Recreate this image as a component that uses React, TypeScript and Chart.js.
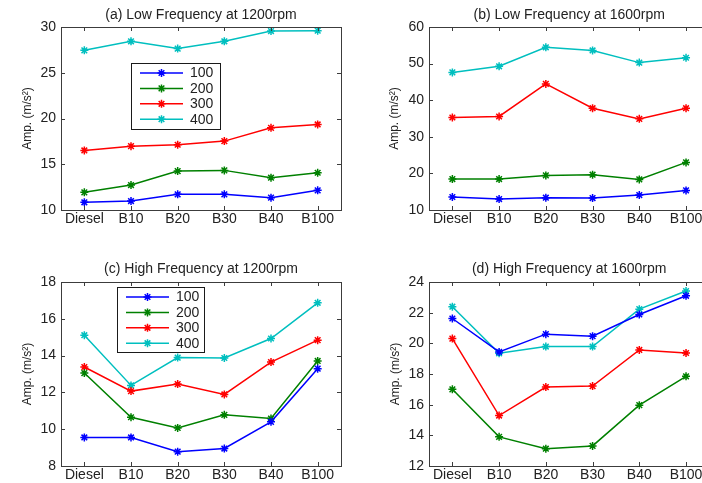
import React, { useEffect, useRef } from 'react';
import { Chart, registerables } from 'chart.js';

Chart.register(...registerables);

// ---------- data ----------
const categories = ['Diesel', 'B10', 'B20', 'B30', 'B40', 'B100'];
const seriesLabels = ['100', '200', '300', '400'];
const seriesColors = ['#0000ff', '#008000', '#ff0000', '#00bfbf'];

// (a) Low Frequency at 1200rpm
const lowFreq1200_100 = [10.84, 10.98, 11.71, 11.71, 11.35, 12.15];
const lowFreq1200_200 = [11.93, 12.73, 14.25, 14.33, 13.53, 14.07];
const lowFreq1200_300 = [16.51, 16.98, 17.13, 17.53, 18.98, 19.35];
const lowFreq1200_400 = [27.45, 28.44, 27.64, 28.44, 29.56, 29.6];
const lowFreq1200Ticks = [10, 15, 20, 25, 30];

// (b) Low Frequency at 1600rpm
const lowFreq1600_100 = [13.55, 13.0, 13.36, 13.27, 14.09, 15.36];
const lowFreq1600_200 = [18.45, 18.45, 19.45, 19.64, 18.36, 23.0];
const lowFreq1600_300 = [35.27, 35.55, 44.45, 37.82, 34.9, 37.82];
const lowFreq1600_400 = [47.6, 49.27, 54.45, 53.6, 50.27, 51.6];
const lowFreq1600Ticks = [10, 20, 30, 40, 50, 60];

// (c) High Frequency at 1200rpm
const highFreq1200_100 = [9.55, 9.55, 8.78, 8.95, 10.4, 13.29];
const highFreq1200_200 = [13.05, 10.65, 10.07, 10.78, 10.58, 13.71];
const highFreq1200_300 = [13.38, 12.07, 12.45, 11.89, 13.65, 14.84];
const highFreq1200_400 = [15.11, 12.38, 13.89, 13.87, 14.93, 16.87];
const highFreq1200Ticks = [8, 10, 12, 14, 16, 18];

// (d) High Frequency at 1600rpm
const highFreq1600_100 = [21.62, 19.44, 20.6, 20.47, 21.88, 23.1];
const highFreq1600_200 = [17.0, 13.9, 13.13, 13.31, 15.97, 17.85];
const highFreq1600_300 = [20.31, 15.29, 17.15, 17.21, 19.57, 19.37];
const highFreq1600_400 = [22.39, 19.35, 19.79, 19.79, 22.23, 23.41];
const highFreq1600Ticks = [12, 14, 16, 18, 20, 22, 24];

const TEXT = '#222222';
const AXIS = '#3c3c3c';
const FONT = '"Liberation Sans", Arial, Helvetica, sans-serif';

function drawStar(ctx: CanvasRenderingContext2D, cx: number, cy: number, r: number) {
  const d = r * Math.SQRT1_2;
  ctx.beginPath();
  ctx.moveTo(cx - r, cy); ctx.lineTo(cx + r, cy);
  ctx.moveTo(cx, cy - r); ctx.lineTo(cx, cy + r);
  ctx.moveTo(cx - d, cy - d); ctx.lineTo(cx + d, cy + d);
  ctx.moveTo(cx - d, cy + d); ctx.lineTo(cx + d, cy - d);
  ctx.stroke();
}

const matlabPlugin = {
  id: 'matlabBox',
  afterDatasetsDraw(chart: any, _args: any, opts: any) {
    const { ctx, chartArea: a } = chart;
    const xs = chart.scales.x;
    const ys = chart.scales.y;
    ctx.save();
    ctx.strokeStyle = AXIS;
    ctx.lineWidth = 1;
    ctx.strokeRect(Math.round(a.left) + 0.5, Math.round(a.top) + 0.5, Math.round(a.right - a.left), Math.round(a.bottom - a.top));
    const tl = 4;
    ctx.beginPath();
    ys.ticks.forEach((t: any) => {
      const py = Math.round(ys.getPixelForValue(t.value)) + 0.5;
      ctx.moveTo(a.left, py); ctx.lineTo(a.left + tl, py);
      ctx.moveTo(a.right, py); ctx.lineTo(a.right - tl, py);
    });
    xs.ticks.forEach((_t: any, i: number) => {
      const px = Math.round(xs.getPixelForTick(i)) + 0.5;
      ctx.moveTo(px, a.bottom); ctx.lineTo(px, a.bottom - tl);
      ctx.moveTo(px, a.top); ctx.lineTo(px, a.top + tl);
    });
    ctx.stroke();

    const L = opts && opts.legend;
    if (L) {
      const x0 = Math.round(a.left + L.x);
      const y0 = Math.round(a.top + L.y);
      ctx.fillStyle = '#ffffff';
      ctx.fillRect(x0, y0, L.w, L.h);
      ctx.strokeStyle = '#1a1a1a';
      ctx.lineWidth = 1;
      ctx.strokeRect(x0 + 0.5, y0 + 0.5, L.w, L.h);
      ctx.font = `14px ${FONT}`;
      ctx.textBaseline = 'middle';
      ctx.textAlign = 'left';
      chart.data.datasets.forEach((ds: any, i: number) => {
        const y = y0 + 10 + i * 15.4;
        ctx.strokeStyle = ds.borderColor;
        ctx.lineWidth = 1.5;
        ctx.beginPath();
        ctx.moveTo(x0 + 9, y); ctx.lineTo(x0 + 52, y);
        ctx.stroke();
        drawStar(ctx, x0 + 30.5, y, 4);
        ctx.fillStyle = TEXT;
        ctx.fillText(ds.label, x0 + 59, y + 0.5);
      });
    }
    ctx.restore();
  },
};

type PanelProps = {
  title: string;
  series: number[][];
  ticks: number[];
  left: number;
  top: number;
  width: number;
  height: number;
  yWidth: number;
  yTitlePad: number;
  rightPad: number;
  titleTop: number;
  titleBottom: number;
  xHeight: number;
  legend?: { x: number; y: number; w: number; h: number } | null;
};

function Panel(p: PanelProps) {
  const ref = useRef<HTMLCanvasElement | null>(null);
  useEffect(() => {
    if (!ref.current) return;
    const chart = new Chart(ref.current, {
      type: 'line',
      data: {
        labels: categories,
        datasets: p.series.map((vals, i) => ({
          label: seriesLabels[i],
          data: vals,
          borderColor: seriesColors[i],
          backgroundColor: seriesColors[i],
          pointBackgroundColor: seriesColors[i],
          pointBorderColor: seriesColors[i],
          pointStyle: 'star',
          pointRadius: 4,
          pointBorderWidth: 1.5,
          borderWidth: 1.5,
          tension: 0,
          fill: false,
        })),
      },
      options: {
        responsive: false,
        animation: false,
        devicePixelRatio: 1,
        layout: { padding: { left: 0, right: p.rightPad, top: 0, bottom: 0 } },
        plugins: {
          legend: { display: false },
          tooltip: { enabled: false },
          title: {
            display: true,
            text: p.title,
            fullSize: false,
            color: TEXT,
            font: { size: 14, weight: 'normal', family: FONT },
            padding: { top: p.titleTop, bottom: p.titleBottom },
          },
          matlabBox: { legend: p.legend || null },
        } as any,
        scales: {
          x: {
            type: 'category',
            offset: true,
            grid: { display: false, drawTicks: false },
            border: { display: false },
            ticks: {
              autoSkip: false,
              maxRotation: 0,
              padding: 1,
              color: TEXT,
              font: { size: 14, family: FONT },
            },
            afterFit: (s: any) => { s.height = p.xHeight; },
          },
          y: {
            min: p.ticks[0],
            max: p.ticks[p.ticks.length - 1],
            grid: { display: false, drawTicks: false },
            border: { display: false },
            ticks: {
              stepSize: p.ticks[1] - p.ticks[0],
              padding: 5,
              color: TEXT,
              font: { size: 14, family: FONT },
            },
            title: {
              display: true,
              text: 'Amp. (m/s²)',
              color: TEXT,
              font: { size: 12, family: FONT },
              padding: { top: p.yTitlePad, bottom: 0 },
            },
            afterFit: (s: any) => { s.width = p.yWidth; },
          },
        } as any,
      },
      plugins: [matlabPlugin],
    } as any);
    return () => chart.destroy();
  }, []);
  return (
    <div style={{ position: 'absolute', left: p.left, top: p.top, width: p.width, height: p.height }}>
      <canvas ref={ref} width={p.width} height={p.height} style={{ display: 'block' }} />
    </div>
  );
}

export default function App() {
  return (
    <div
      style={{
        position: 'fixed',
        left: 0,
        top: 0,
        width: 702,
        height: 483,
        overflow: 'hidden',
        background: '#ffffff',
      }}
    >
      <Panel
        title="(a) Low Frequency at 1200rpm"
        series={[lowFreq1200_100, lowFreq1200_200, lowFreq1200_300, lowFreq1200_400]}
        ticks={lowFreq1200Ticks}
        left={0} top={0} width={351} height={240}
        yWidth={61} yTitlePad={20} rightPad={10}
        titleTop={6.6} titleBottom={3.6} xHeight={30}
        legend={{ x: 70, y: 36, w: 89, h: 66 }}
      />
      <Panel
        title="(b) Low Frequency at 1600rpm"
        series={[lowFreq1600_100, lowFreq1600_200, lowFreq1600_300, lowFreq1600_400]}
        ticks={lowFreq1600Ticks}
        left={351} top={0} width={370} height={240}
        yWidth={78} yTitlePad={36.8} rightPad={11.6}
        titleTop={6.6} titleBottom={3.6} xHeight={30}
      />
      <Panel
        title="(c) High Frequency at 1200rpm"
        series={[highFreq1200_100, highFreq1200_200, highFreq1200_300, highFreq1200_400]}
        ticks={highFreq1200Ticks}
        left={0} top={240} width={351} height={243}
        yWidth={61} yTitlePad={20.3} rightPad={10}
        titleTop={20.9} titleBottom={4.3} xHeight={17}
        legend={{ x: 56, y: 5, w: 87, h: 65 }}
      />
      <Panel
        title="(d) High Frequency at 1600rpm"
        series={[highFreq1600_100, highFreq1600_200, highFreq1600_300, highFreq1600_400]}
        ticks={highFreq1600Ticks}
        left={351} top={240} width={370} height={243}
        yWidth={78} yTitlePad={37.6} rightPad={11.6}
        titleTop={20.9} titleBottom={4.3} xHeight={17}
      />
    </div>
  );
}
